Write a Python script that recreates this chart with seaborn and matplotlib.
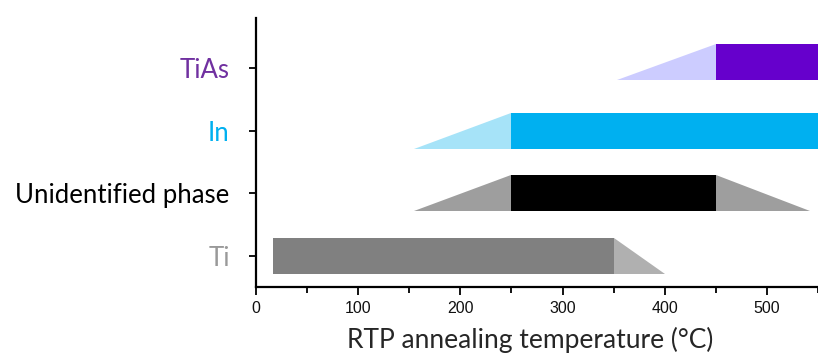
import matplotlib
matplotlib.use("Agg")
import matplotlib.pyplot as plt
import seaborn as sns
from matplotlib.ticker import MultipleLocator

# ---- data ----
categories = ["Ti", "Unidentified phase", "In", "TiAs"]
label_colors = ["#999999", "#000000", "#00B0F0", "#7030A0"]
solid_start = [17, 250, 250, 450]
solid_end = [350, 450, 550, 550]
ramp_up_start = [None, 155, 155, 353]     # onset (triangle rising to solid_start)
ramp_down_end = [400, 542, None, None]    # fade-out (triangle falling from solid_end)
solid_colors = ["#808080", "#000000", "#00B0F0", "#6600CC"]
ramp_up_colors = [None, "#9e9e9e", "#A6E3F8", "#CCCCFF"]
ramp_down_colors = ["#B0B0B0", "#9e9e9e", None, None]
xticks = [0, 100, 200, 300, 400, 500]

sns.set_theme(style="ticks")
plt.rcParams["font.family"] = ["Lato", "DejaVu Sans"]

fig = plt.figure(figsize=(8.18, 3.56), dpi=100)
ax = fig.add_axes([0.313, 0.194, 0.687, 0.755])

h = 0.58
ypos = list(range(len(categories)))
# the top bar sits slightly above its tick in the original layout
bar_y = [y + (0.1 if i == len(categories) - 1 else 0) for i, y in enumerate(ypos)]
ax.barh(bar_y, [e - s for s, e in zip(solid_start, solid_end)], left=solid_start,
        height=h, color=solid_colors, linewidth=0)

for y, rs, ss, c in zip(bar_y, ramp_up_start, solid_start, ramp_up_colors):
    if rs is not None:
        ax.fill([rs, ss, ss], [y - h / 2, y - h / 2, y + h / 2], color=c, linewidth=0)
for y, re, se, c in zip(bar_y, ramp_down_end, solid_end, ramp_down_colors):
    if re is not None:
        ax.fill([se, se, re], [y + h / 2, y - h / 2, y - h / 2], color=c, linewidth=0)

ax.set_xlim(0, 550)
ax.set_ylim(-0.5, 3.8)
ax.set_yticks(ypos)
ax.set_yticklabels(categories, fontsize=18.5)
for lab, c in zip(ax.get_yticklabels(), label_colors):
    lab.set_color(c)
ax.set_xticks(xticks)
ax.set_xticklabels([str(t) for t in xticks], fontsize=11.5, fontfamily="Liberation Sans",
                   color="#111111")
ax.xaxis.set_minor_locator(MultipleLocator(50))
ax.tick_params(axis="x", which="major", length=6, width=1.3, color="black", pad=4)
ax.tick_params(axis="x", which="minor", length=4, width=1.3, color="black")
ax.tick_params(axis="y", which="major", length=5, width=1.3, color="black", pad=14)
ax.set_xlabel("RTP annealing temperature (°C)", fontsize=19)
ax.xaxis.set_label_coords(0.487, -0.15)
sns.despine(ax=ax)
for s in ["left", "bottom"]:
    ax.spines[s].set_linewidth(1.6)
    ax.spines[s].set_color("black")

fig.savefig("out.png", dpi=100)
